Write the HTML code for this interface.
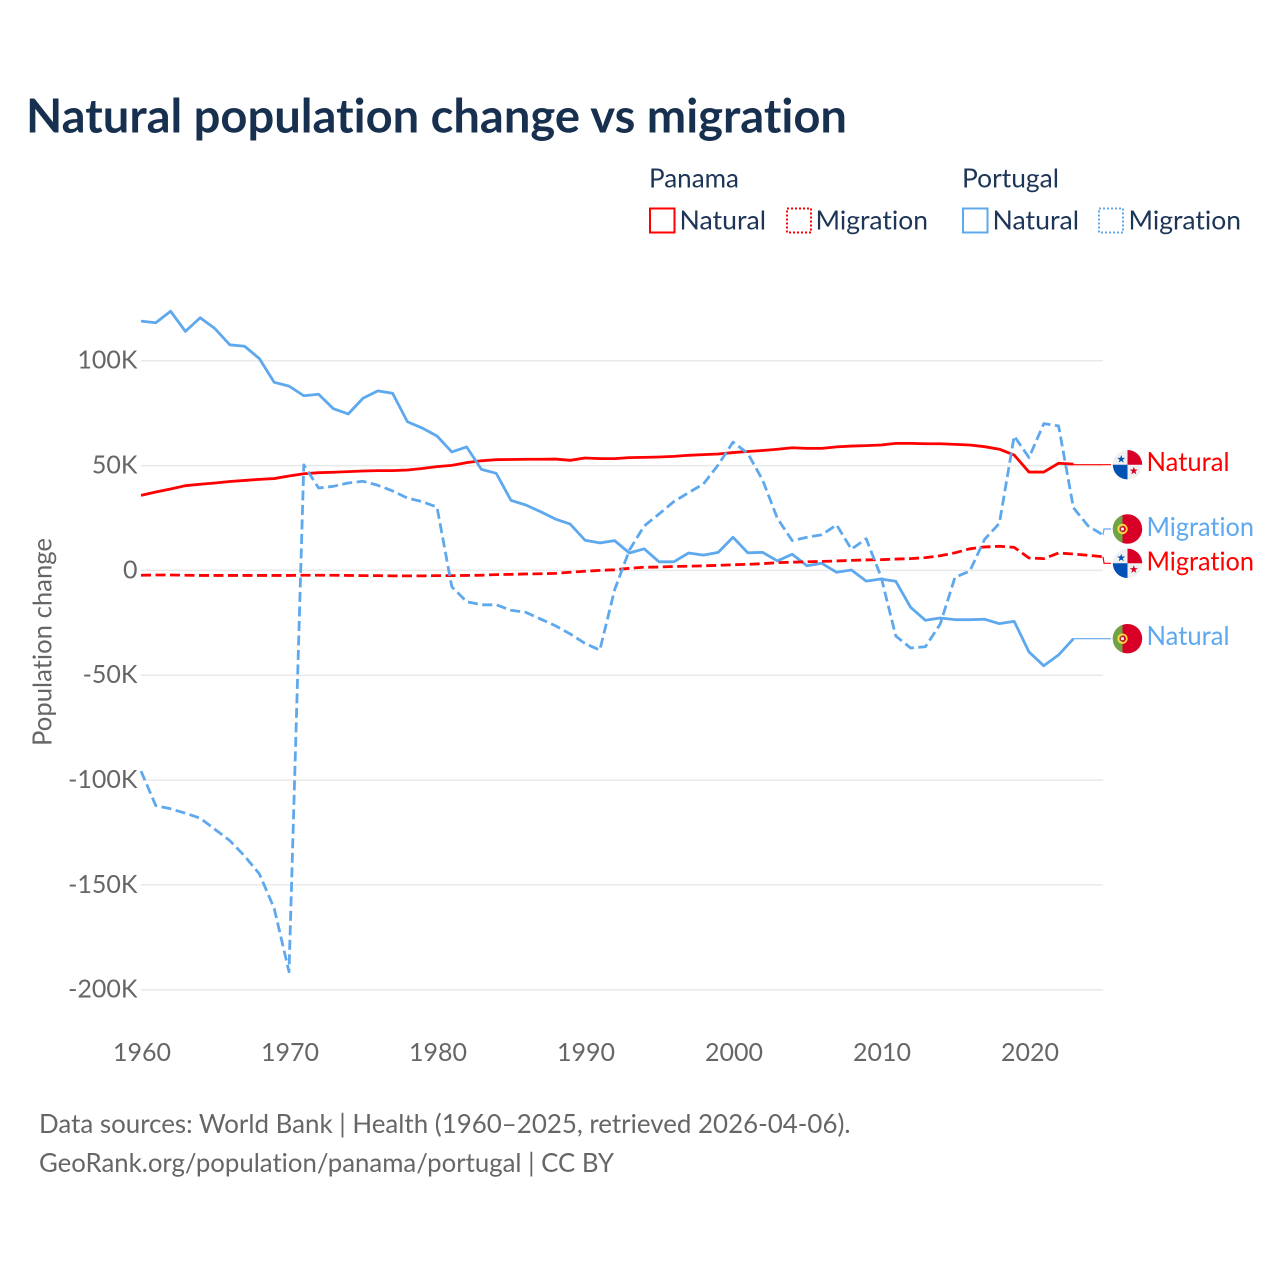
<!DOCTYPE html>
<html lang="en">
<head>
<meta charset="utf-8">
<title>Natural population change vs migration</title>
<style>
html,body{margin:0;padding:0;background:#fff;width:1280px;height:1280px;overflow:hidden}
svg{display:block}
text{font-family:Lato,Carlito,"Liberation Sans",sans-serif;font-variant-ligatures:none;font-feature-settings:"liga" 0,"clig" 0}
</style>
</head>
<body>
<svg id="chart" xmlns="http://www.w3.org/2000/svg" width="1280" height="1280" viewBox="0 0 1280 1280">
  <rect width="1280" height="1280" fill="#fff"/>
  <text x="26" y="132.5" font-size="47" font-weight="700" fill="#18304f" textLength="821" lengthAdjust="spacingAndGlyphs">Natural population change vs migration</text>

  <g font-size="26" fill="#1d3557">
    <text x="649" y="187.5" textLength="90" lengthAdjust="spacingAndGlyphs">Panama</text>
    <text x="962" y="187.5" textLength="97" lengthAdjust="spacingAndGlyphs">Portugal</text>
    <rect x="650" y="208.5" width="24.5" height="24" fill="none" stroke="#ff0000" stroke-width="2"/>
    <text x="679.5" y="229.5" textLength="86.5" lengthAdjust="spacingAndGlyphs">Natural</text>
    <rect x="787" y="208.5" width="24" height="24" fill="none" stroke="#ff0000" stroke-width="2" stroke-dasharray="2 2"/>
    <text x="815.5" y="229.5" textLength="112.5" lengthAdjust="spacingAndGlyphs">Migration</text>
    <rect x="963" y="208.5" width="24.5" height="24" fill="none" stroke="#5ea8ee" stroke-width="2"/>
    <text x="992.5" y="229.5" textLength="86.5" lengthAdjust="spacingAndGlyphs">Natural</text>
    <rect x="1099" y="208.5" width="24" height="24" fill="none" stroke="#5ea8ee" stroke-width="2" stroke-dasharray="2 2"/>
    <text x="1128.5" y="229.5" textLength="112.5" lengthAdjust="spacingAndGlyphs">Migration</text>
  </g>

  <g id="grid"></g>
  <g id="yticks"></g>
  <g id="xticks"></g>
  <text transform="translate(51.5,642) rotate(-90)" text-anchor="middle" font-size="26" fill="#666" textLength="208" lengthAdjust="spacingAndGlyphs">Population change</text>
  <g id="series"></g>

  <g font-size="26" fill="#666">
    <text x="39" y="1133" textLength="811.5" lengthAdjust="spacingAndGlyphs">Data sources: World Bank | Health (1960–2025, retrieved 2026-04-06).</text>
    <text x="39" y="1172" textLength="575" lengthAdjust="spacingAndGlyphs">GeoRank.org/population/panama/portugal | CC BY</text>
  </g>
</svg>
<script>
const yTickValues = [100, 50, 0, -50, -100, -150, -200];
const yTickLabels = ['100K', '50K', '0', '-50K', '-100K', '-150K', '-200K'];
const xTickYears = [1960, 1970, 1980, 1990, 2000, 2010, 2020];
const startYear = 1960;

const panamaNatural = [35.8,37.4,38.8,40.4,41.1,41.7,42.4,42.9,43.4,43.8,45.0,46.1,46.6,46.8,47.1,47.4,47.6,47.6,47.9,48.6,49.5,50.1,51.4,52.3,52.8,52.9,53.0,53.0,53.1,52.5,53.6,53.3,53.3,53.8,53.9,54.1,54.4,54.9,55.2,55.5,56.2,56.7,57.2,57.8,58.5,58.2,58.2,58.9,59.3,59.5,59.8,60.6,60.6,60.4,60.4,60.1,59.8,59.0,57.8,55.0,46.9,46.9,51.1,50.7];
const panamaMigration = [-2.3,-2.2,-2.2,-2.3,-2.4,-2.4,-2.4,-2.4,-2.4,-2.4,-2.4,-2.3,-2.3,-2.3,-2.4,-2.5,-2.5,-2.6,-2.6,-2.6,-2.5,-2.5,-2.4,-2.3,-2.0,-1.9,-1.7,-1.6,-1.4,-0.9,-0.4,0.0,0.3,1.0,1.5,1.6,1.9,2.0,2.2,2.4,2.7,2.9,3.2,3.7,3.9,4.1,4.3,4.5,4.8,5.0,5.1,5.4,5.6,6.1,7.0,8.4,10.3,11.2,11.5,11.0,5.9,5.6,8.3,7.8,7.2,6.5];
const portugalNatural = [118.9,118.1,123.6,114.0,120.5,115.3,107.6,106.9,101.0,89.7,87.9,83.3,84.0,77.1,74.6,82.1,85.6,84.5,70.9,67.9,64.1,56.5,58.9,48.2,46.3,33.4,31.2,28.0,24.5,22.1,14.4,13.1,14.2,8.3,10.3,4.1,4.1,8.3,7.3,8.6,15.8,8.4,8.6,4.5,7.7,2.2,3.4,-0.9,0.2,-5.1,-4.1,-5.2,-17.6,-23.8,-22.7,-23.5,-23.5,-23.3,-25.4,-24.3,-38.9,-45.5,-40.3,-32.6];
const portugalMigration = [-95.7,-112.2,-113.7,-115.8,-118.2,-123.5,-128.9,-136.2,-144.8,-161.2,-191.4,50.3,39.3,40.1,41.7,42.5,40.6,37.9,34.5,32.8,30.2,-7.8,-14.9,-16.4,-16.4,-19.0,-20.0,-23.2,-26.4,-30.3,-34.8,-38.0,-9.3,9.7,21.2,26.9,32.8,37.1,41.2,50.3,61.2,55.8,43.1,24.8,14.2,15.8,17.0,21.7,10.1,15.1,-3.0,-31.3,-37.0,-36.4,-25.6,-3.3,-0.3,14.8,22.5,64.1,53.8,70.0,68.9,29.9,21.2,16.9];

const NS = 'http://www.w3.org/2000/svg';
const RED = '#ff0000';
const BLUE = '#5ea8ee';
const plotLeft = 141;
const plotRight = 1103;
const xScale = function (year) { return plotLeft + (year - startYear) * 14.8; };
const yScale = function (k) { return 570.4 - k * 2.0967; };

function make(tag, attrs, parent) {
  const el = document.createElementNS(NS, tag);
  for (const k in attrs) el.setAttribute(k, attrs[k]);
  parent.appendChild(el);
  return el;
}

const grid = document.getElementById('grid');
const yticks = document.getElementById('yticks');
const xticks = document.getElementById('xticks');
const seriesGroup = document.getElementById('series');

yTickValues.forEach(function (v, i) {
  const line = make('line', { x1: plotLeft, x2: plotRight, y1: yScale(v), y2: yScale(v), stroke: '#e9e9e9', 'stroke-width': 1.5 }, grid);
  
  
  const label = make('text', { x: 137.5, y: yScale(v) + 8, 'text-anchor': 'end', 'font-size': 25, fill: '#666' }, yticks);
  
  
  label.textContent = yTickLabels[i];
});

xTickYears.forEach(function (year) {
  const label = make('text', { x: xScale(year) + 1, y: 1061, 'text-anchor': 'middle', 'font-size': 25, fill: '#666' }, xticks);
  
  
  label.textContent = String(year);
});

function pointsFor(values) {
  return values.map(function (v, i) {
    return xScale(startYear + i).toFixed(2) + ',' + yScale(v).toFixed(2);
  }).join(' ');
}

function drawLine(values, color, dashed, name) {
  const attrs = { points: pointsFor(values), fill: 'none', stroke: color, 'stroke-width': 2.8, 'stroke-linejoin': 'round' };
  if (dashed) attrs['stroke-dasharray'] = '10 4.5';
  const line = make('polyline', attrs, seriesGroup);
  
  
}

drawLine(panamaNatural, RED, false, 'line-panama-natural');
drawLine(portugalNatural, BLUE, false, 'line-portugal-natural');
drawLine(panamaMigration, RED, true, 'line-panama-migration');
drawLine(portugalMigration, BLUE, true, 'line-portugal-migration');

function star(cx, cy, r, fill, parent) {
  const pts = [];
  for (let i = 0; i < 10; i++) {
    const a = -Math.PI / 2 + i * Math.PI / 5;
    const rad = i % 2 ? r * 0.4 : r;
    pts.push((cx + rad * Math.cos(a)).toFixed(2) + ',' + (cy + rad * Math.sin(a)).toFixed(2));
  }
  return make('polygon', { points: pts.join(' '), fill: fill }, parent);
}

function panamaFlag(cy, parent) {
  const cx = 1127.5, r = 14.7;
  const g = make('g', {}, parent);
  
  
  make('circle', { cx: cx, cy: cy, r: r, fill: '#f0f0f0' }, g);
  make('path', { d: 'M' + cx + ' ' + cy + 'V' + (cy - r) + 'A' + r + ' ' + r + ' 0 0 1 ' + (cx + r) + ' ' + cy + 'Z', fill: '#d80027' }, g);
  make('path', { d: 'M' + cx + ' ' + cy + 'V' + (cy + r) + 'A' + r + ' ' + r + ' 0 0 1 ' + (cx - r) + ' ' + cy + 'Z', fill: '#0052b4' }, g);
  star(cx - 6.3, cy - 5.5, 4.2, '#0052b4', g);
  star(cx + 6.3, cy + 6.2, 4.2, '#d80027', g);
}

function portugalFlag(cy, parent) {
  const cx = 1127.5, r = 14.7;
  const g = make('g', {}, parent);
  
  
  make('circle', { cx: cx, cy: cy, r: r, fill: '#d80027' }, g);
  make('path', { d: 'M' + (cx - 5) + ' ' + (cy - r + 0.9) + 'A' + r + ' ' + r + ' 0 0 0 ' + (cx - 5) + ' ' + (cy + r - 0.9) + 'Z', fill: '#6da544' }, g);
  make('circle', { cx: cx - 5, cy: cy, r: 4.3, fill: 'none', stroke: '#ffda44', 'stroke-width': 1.8 }, g);
  make('rect', { x: cx - 6.8, y: cy - 1.8, width: 3.6, height: 3.6, rx: 0.6, fill: '#f0f0f0', stroke: '#d80027', 'stroke-width': 0.8 }, g);
}

function addEndLabel(cfg) {
  const endX = xScale(startYear + cfg.values.length - 1);
  const endY = yScale(cfg.values[cfg.values.length - 1]);
  const path = 'M' + endX.toFixed(1) + ' ' + endY.toFixed(1) + 'L' + (endX + cfg.jog).toFixed(1) + ' ' + cfg.y + 'H1111';
  const conn = make('path', { d: path, fill: 'none', stroke: cfg.color, 'stroke-width': 1.2 }, seriesGroup);
  
  
  if (cfg.flag === 'panama') panamaFlag(cfg.y, seriesGroup); else portugalFlag(cfg.y, seriesGroup);
  const label = make('text', { x: 1146.5, y: cfg.y + 6.5 + cfg.dy, 'font-size': 26, fill: cfg.color, textLength: cfg.width, lengthAdjust: 'spacingAndGlyphs' }, seriesGroup);
  
  
  label.textContent = cfg.text;
}

addEndLabel({ values: panamaNatural, color: RED, jog: 1, y: 464.7, dy: 0, flag: 'panama', text: 'Natural', width: 83, name: 'panama-natural' });
addEndLabel({ values: portugalMigration, color: BLUE, jog: 1, y: 529, dy: 0.5, flag: 'portugal', text: 'Migration', width: 107.5, name: 'portugal-migration' });
addEndLabel({ values: panamaMigration, color: RED, jog: 1, y: 563.3, dy: 0.5, flag: 'panama', text: 'Migration', width: 107.5, name: 'panama-migration' });
addEndLabel({ values: portugalNatural, color: BLUE, jog: 1, y: 638.7, dy: 0, flag: 'portugal', text: 'Natural', width: 83, name: 'portugal-natural' });
</script>
</body>
</html>
